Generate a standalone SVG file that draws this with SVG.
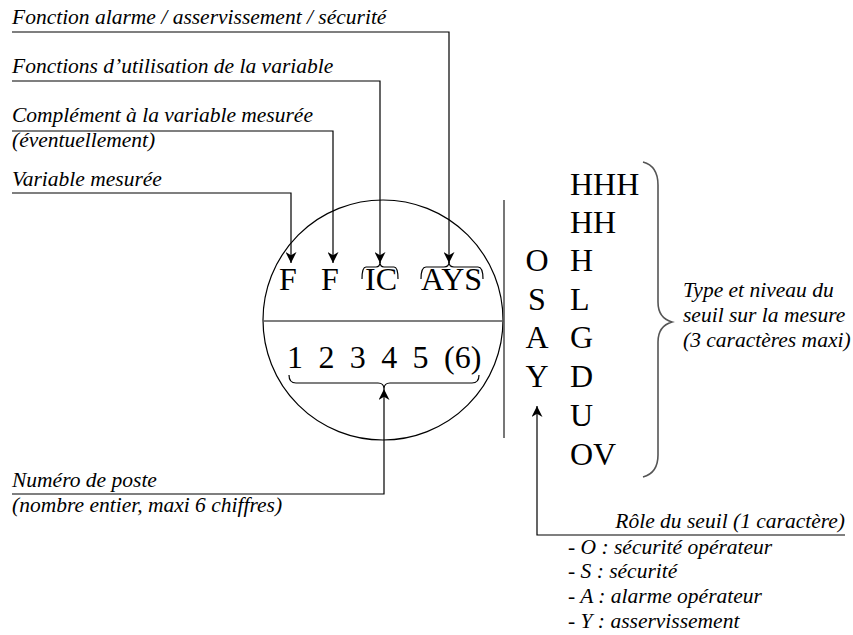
<svg xmlns="http://www.w3.org/2000/svg" width="853" height="635" viewBox="0 0 853 635">
<style>
.lbl{font-family:"Liberation Serif","Times New Roman",serif;font-style:italic;font-size:21.5px;fill:#000}
.big{font-family:"Liberation Serif","Times New Roman",serif;font-size:32px;fill:#000}
.ln{fill:none;stroke:#000;stroke-width:1.2}
.gr{fill:none;stroke:#555;stroke-width:1.6}
</style>
<defs>
<marker id="ah" viewBox="0 0 10 10" refX="10" refY="5" markerWidth="11" markerHeight="11" markerUnits="userSpaceOnUse" orient="auto">
<path d="M0,0 L10,5 L0,10 L3,5 Z" fill="#000"/>
</marker>
</defs>
<rect width="853" height="635" fill="#fff"/>
<g id="circle">
<circle cx="383" cy="320" r="120" class="ln"/>
<line x1="263" y1="321" x2="504" y2="321" class="gr"/>
<line x1="504" y1="200" x2="504" y2="438" class="gr"/>
<text class="big" x="279" y="290">F</text>
<text class="big" x="321" y="290">F</text>
<text class="big" x="365" y="290">IC</text>
<text class="big" x="421" y="290">AYS</text>
<path class="ln" d="M362,279 Q362,267 366,267 L376,267 Q380,267 380,262 Q380,267 384,267 L394,267 Q398,267 398,279"/>
<path class="ln" d="M421,279 Q421,267 426,267 L444,267 Q449,267 449,262 Q449,267 454,267 L478,267 Q483,267 483,279"/>
<text class="big" x="287" y="368" word-spacing="7.4">1 2 3 4 5 (6)</text>
<path class="ln" d="M289,375 Q289,383 296,383 L378,383 Q384,383 384,389 Q384,383 390,383 L472,383 Q479,383 479,375"/>
</g>
<g id="roles">
<text class="big" x="537" y="271" text-anchor="middle">O</text>
<text class="big" x="537" y="310" text-anchor="middle">S</text>
<text class="big" x="537" y="348" text-anchor="middle">A</text>
<text class="big" x="537" y="387" text-anchor="middle">Y</text>
</g>
<g id="levels">
<text class="big" x="570" y="195">HHH</text>
<text class="big" x="570" y="233">HH</text>
<text class="big" x="570" y="271">H</text>
<text class="big" x="570" y="310">L</text>
<text class="big" x="570" y="348">G</text>
<text class="big" x="570" y="387">D</text>
<text class="big" x="570" y="426">U</text>
<text class="big" x="570" y="465">OV</text>
<path class="gr" d="M643,162 Q658,166 658,185 L658,302 Q658,318 672,322 Q658,326 658,342 L658,455 Q658,473 643,477"/>
</g>
<g id="labels">
<text class="lbl" x="12" y="24">Fonction alarme / asservissement / sécurité</text>
<text class="lbl" x="12" y="73">Fonctions d’utilisation de la variable</text>
<text class="lbl" x="12" y="122">Complément à la variable mesurée</text>
<text class="lbl" x="12" y="147">(éventuellement)</text>
<text class="lbl" x="12" y="186">Variable mesurée</text>
<text class="lbl" x="12" y="487">Numéro de poste</text>
<text class="lbl" x="12" y="512">(nombre entier, maxi 6 chiffres)</text>
<text class="lbl" x="683" y="297">Type et niveau du</text>
<text class="lbl" x="683" y="322">seuil sur la mesure</text>
<text class="lbl" x="683" y="347">(3 caractères maxi)</text>
<text class="lbl" x="845" y="528" text-anchor="end">Rôle du seuil (1 caractère)</text>
<text class="lbl" x="568" y="554">- O : sécurité opérateur</text>
<text class="lbl" x="568" y="578">- S : sécurité</text>
<text class="lbl" x="568" y="603">- A : alarme opérateur</text>
<text class="lbl" x="568" y="628">- Y : asservissement</text>
</g>
<g id="connectors">
<polyline class="ln" points="12,32 449,32 449,263" marker-end="url(#ah)"/>
<polyline class="ln" points="12,81 380,81 380,263" marker-end="url(#ah)"/>
<polyline class="ln" points="12,131 333,131 333,263" marker-end="url(#ah)"/>
<polyline class="ln" points="12,193 291,193 291,263" marker-end="url(#ah)"/>
<polyline class="ln" points="12,494 384,494 384,389" marker-end="url(#ah)"/>
<polyline class="ln" points="845,535 537,535 537,406" marker-end="url(#ah)"/>
</g>
</svg>
